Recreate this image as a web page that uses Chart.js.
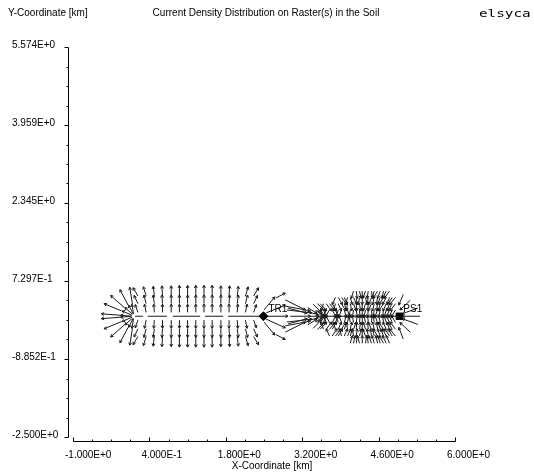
<!DOCTYPE html>
<html lang="en">
<head>
<meta charset="UTF-8">
<title>Current Density Distribution on Raster(s) in the Soil</title>
<script src="https://cdn.jsdelivr.net/npm/chart.js"></script>
<style>
    body { margin: 0; background: #fff; }
    canvas { display: block; }
</style>
</head>
<body>
<canvas id="soilChart" width="534" height="473"></canvas>
<script>
// Axis tick labels (values are read back from the label text)
const xTickLabels = ['-1.000E+0', '4.000E-1', '1.800E+0', '3.200E+0', '4.600E+0', '6.000E+0'];
const yTickLabels = ['-2.500E+0', '-8.852E-1', '7.297E-1', '2.345E+0', '3.959E+0', '5.574E+0'];

// Sources
const sourceNames = ['TR1', 'PS1'];
const sourceX = [2.49, 4.98];
const sourceY = [0, 0];

// Raster conductors along y = 0 (start / end in km)
const rasterStart = [0.14, 0.37, 0.83, 1.42, 1.84, 3.50];
const rasterEnd = [0.28, 0.72, 1.33, 1.75, 2.49, 4.98];

// Left raster (TR1): grid points and current vectors [km]
const leftCols = [0.19, 0.34, 0.49, 0.64, 0.80, 0.95, 1.10, 1.25, 1.40, 1.55, 1.71, 1.86, 2.01, 2.16, 2.31];
const leftRows = [0.42, 0.26, 0.08, -0.08, -0.26, -0.42];
const leftU = [
    [-0.09, -0.05, -0.02, -0.01, 0, 0, 0, 0, 0, 0, 0, 0.01, 0.02, 0.05, 0.09],
    [-0.07, -0.04, -0.02, -0.01, 0, 0, 0, 0, 0, 0, 0, 0.01, 0.02, 0.04, 0.07],
    [-0.05, -0.03, -0.01, 0, 0, 0, 0, 0, 0, 0, 0, 0, 0.01, 0.03, 0.05],
    [-0.05, -0.03, -0.01, 0, 0, 0, 0, 0, 0, 0, 0, 0, 0.01, 0.03, 0.05],
    [-0.07, -0.04, -0.02, -0.01, 0, 0, 0, 0, 0, 0, 0, 0.01, 0.02, 0.04, 0.07],
    [-0.09, -0.05, -0.02, -0.01, 0, 0, 0, 0, 0, 0, 0, 0.01, 0.02, 0.05, 0.09]
];
const leftV = [
    [0.17, 0.19, 0.20, 0.21, 0.21, 0.22, 0.22, 0.22, 0.22, 0.22, 0.21, 0.21, 0.20, 0.19, 0.17],
    [0.17, 0.18, 0.18, 0.18, 0.18, 0.18, 0.18, 0.18, 0.18, 0.18, 0.18, 0.18, 0.18, 0.18, 0.17],
    [0.16, 0.17, 0.17, 0.17, 0.17, 0.17, 0.17, 0.17, 0.17, 0.17, 0.17, 0.17, 0.17, 0.17, 0.16],
    [-0.16, -0.17, -0.17, -0.17, -0.17, -0.17, -0.17, -0.17, -0.17, -0.17, -0.17, -0.17, -0.17, -0.17, -0.16],
    [-0.17, -0.18, -0.18, -0.18, -0.18, -0.18, -0.18, -0.18, -0.18, -0.18, -0.18, -0.18, -0.18, -0.18, -0.17],
    [-0.17, -0.19, -0.20, -0.21, -0.21, -0.22, -0.22, -0.22, -0.22, -0.22, -0.21, -0.21, -0.20, -0.19, -0.17]
];

// Right raster (PS1): two interleaved column sets, horizontal components (null = no arrow),
// vertical component per row (pointing in towards the conductor)
const rightRows = [0.52, 0.39, 0.26, 0.13, -0.13, -0.27, -0.41, -0.56];
const rightV = [-0.15, -0.15, -0.15, -0.15, 0.15, 0.15, 0.15, 0.16];
const rightCols = [3.53, 3.64, 3.75, 3.86, 3.97, 4.08, 4.19, 4.30, 4.41, 4.52, 4.63, 4.74, 4.85];
const rightU = [
    [null, null, null, null, null, null, 0.02, 0.00, -0.02, -0.04, -0.05, -0.07, null],
    [null, null, null, 0.08, 0.06, 0.04, 0.02, 0.00, -0.02, -0.03, -0.05, -0.07, -0.09],
    [0.12, 0.10, 0.08, 0.06, 0.05, 0.03, 0.01, 0.00, -0.01, -0.03, -0.04, -0.06, -0.08],
    [0.10, -0.06, 0.07, -0.04, 0.04, -0.02, 0.02, 0.00, -0.01, -0.02, -0.03, -0.04, -0.06],
    [0.10, -0.05, 0.07, -0.04, 0.04, -0.02, 0.02, 0.00, -0.01, -0.02, -0.03, -0.04, -0.06],
    [0.12, 0.10, 0.08, 0.06, 0.05, 0.03, 0.01, 0.00, -0.01, -0.03, -0.04, -0.06, -0.08],
    [null, null, 0.09, 0.08, 0.06, 0.04, 0.02, 0.00, -0.02, -0.03, -0.05, -0.07, -0.08],
    [null, null, null, null, null, 0.04, 0.02, 0.00, -0.02, -0.04, -0.05, -0.07, null]
];
const rightColsB = [3.48, 3.59, 3.70, 3.81, 3.92, 4.03, 4.14, 4.25, 4.36, 4.47, 4.58, 4.69, 4.80, 4.91];
const rightUB = [
    [null, null, null, null, null, null, -0.04, 0.03, -0.05, 0.02, -0.08, -0.03, -0.10, null],
    [null, null, null, -0.06, 0.10, -0.03, 0.06, -0.02, 0.03, -0.05, -0.02, -0.08, -0.05, -0.11],
    [0.14, -0.05, 0.11, -0.04, 0.08, -0.02, 0.05, 0.02, -0.04, -0.06, -0.02, -0.09, -0.05, -0.10],
    [0.12, 0.06, -0.08, 0.05, -0.05, 0.04, -0.02, 0.01, -0.03, 0.01, -0.05, -0.02, -0.06, -0.08],
    [0.12, 0.05, -0.07, 0.05, -0.05, 0.03, -0.02, 0.01, -0.03, 0.01, -0.05, -0.02, -0.06, -0.08],
    [0.14, -0.05, 0.11, -0.04, 0.08, -0.02, 0.05, 0.02, -0.04, -0.06, -0.02, -0.09, -0.05, -0.10],
    [null, null, -0.06, 0.10, -0.03, 0.06, -0.02, 0.03, -0.05, -0.02, -0.08, -0.05, -0.09, -0.11],
    [null, null, null, null, null, null, 0.03, -0.04, 0.02, -0.05, -0.03, -0.08, -0.06, null]
];

// Loose arrows [x, y, dx, dy] in km
const leftFan = [
    [-0.13, 0.02, -0.35, 0.03], [-0.13, -0.02, -0.35, -0.03],
    [-0.11, 0.11, -0.32, 0.15], [-0.11, -0.11, -0.32, -0.15],
    [-0.06, 0.18, -0.25, 0.25], [-0.06, -0.18, -0.25, -0.25],
    [0.01, 0.23, -0.15, 0.32], [0.01, -0.23, -0.15, -0.32],
    [0.09, 0.25, -0.05, 0.35], [0.09, -0.25, -0.05, -0.35],
    [0.07, 0.00, -0.20, 0.02], [0.07, 0.00, -0.20, -0.02],
    [0.08, 0.02, -0.18, 0.09], [0.08, -0.02, -0.18, -0.09],
    [0.09, 0.04, -0.14, 0.14], [0.09, -0.04, -0.14, -0.14],
    [0.10, 0.05, -0.08, 0.18], [0.10, -0.05, -0.08, -0.18],
    [0.11, 0.05, -0.03, 0.20], [0.11, -0.05, -0.03, -0.20]
];
const gapArrows = [
    [2.50, 0.13, 0.20, 0.27], [2.54, 0.07, 0.35, 0.16], [2.54, 0.00, 0.40, 0.00],
    [2.54, -0.06, 0.35, -0.18], [2.50, -0.12, 0.20, -0.27],
    [2.72, 0.38, 0.17, 0.10], [2.72, -0.38, 0.17, -0.10],
    [2.89, 0.34, 0.37, -0.21], [2.94, 0.17, 0.35, -0.11], [2.98, 0.00, 0.37, 0.00],
    [2.94, -0.16, 0.35, 0.11], [2.89, -0.33, 0.37, 0.21],
    [2.89, 0.21, 0.46, -0.10], [2.92, 0.13, 0.46, -0.06],
    [2.92, -0.12, 0.46, 0.06], [2.89, -0.20, 0.46, 0.10],
    [3.30, 0.18, 0.17, -0.12], [3.34, 0.00, 0.17, 0.00], [3.30, -0.18, 0.17, 0.12],
    [3.34, 0.08, 0.16, -0.05], [3.34, -0.08, 0.16, 0.05],
    [3.40, 0.25, 0.15, -0.17], [3.40, -0.25, 0.15, 0.17],
    [3.45, 0.12, 0.12, -0.10], [3.45, -0.12, 0.12, 0.10]
];
const endFan = [
    [5.32, 0.17, -0.29, -0.12], [5.36, 0.00, -0.33, 0.00], [5.32, -0.17, -0.29, 0.12],
    [5.18, 0.33, -0.19, -0.20], [5.18, -0.33, -0.19, 0.20],
    [5.05, 0.45, -0.08, -0.22], [5.05, -0.47, -0.08, 0.24]
];

const FONT = '"Liberation Sans", Arial, sans-serif';

function drawArrow(c, x0, y0, x1, y1) {
    const a = Math.atan2(y1 - y0, x1 - x0);
    c.beginPath();
    c.moveTo(x0, y0);
    c.lineTo(x1, y1);
    c.moveTo(x1, y1);
    c.lineTo(x1 - 3 * Math.cos(a - 0.5), y1 - 3 * Math.sin(a - 0.5));
    c.moveTo(x1, y1);
    c.lineTo(x1 - 3 * Math.cos(a + 0.5), y1 - 3 * Math.sin(a + 0.5));
    c.stroke();
}

const fieldPlugin = {
    id: 'field',
    beforeDatasetsDraw(chart) {
        const { ctx, scales: { x, y } } = chart;
        const arrow = (px, py, u, v) => drawArrow(ctx,
            x.getPixelForValue(px), y.getPixelForValue(py),
            x.getPixelForValue(px + u), y.getPixelForValue(py + v));
        ctx.save();
        ctx.strokeStyle = '#1a1a1a';
        ctx.lineWidth = 1;
        leftRows.forEach((ry, r) => leftCols.forEach((cx, c) => arrow(cx, ry, leftU[r][c], leftV[r][c])));
        rightRows.forEach((ry, r) => {
            rightCols.forEach((cx, c) => {
                if (rightU[r][c] !== null) arrow(cx, ry, rightU[r][c], rightV[r]);
            });
            rightColsB.forEach((cx, c) => {
                if (rightUB[r][c] !== null) arrow(cx, ry, rightUB[r][c], rightV[r]);
            });
        });
        [...leftFan, ...gapArrows, ...endFan].forEach(a => arrow(a[0], a[1], a[2], a[3]));
        ctx.restore();
    },
    afterDraw(chart) {
        const { ctx, chartArea: area, scales: { x, y } } = chart;
        ctx.save();
        ctx.strokeStyle = '#000';
        ctx.lineWidth = 1;
        ctx.beginPath();

        // y axis, set a few pixels left of the plot
        const ax = area.left - 5 + 0.5;
        const yTicks = y.ticks.map(t => t.value);
        ctx.moveTo(ax, Math.round(y.getPixelForValue(yTicks[yTicks.length - 1])) + 0.5);
        ctx.lineTo(ax, Math.round(y.getPixelForValue(yTicks[0])) + 0.5);
        yTicks.forEach((v, i) => {
            const p = Math.round(y.getPixelForValue(v)) + 0.5;
            ctx.moveTo(ax - 4, p); ctx.lineTo(ax, p);
            if (i < yTicks.length - 1) {
                const step = (yTicks[i + 1] - v) / 4;
                for (let k = 1; k < 4; k++) {
                    const q = Math.round(y.getPixelForValue(v + k * step)) + 0.5;
                    ctx.moveTo(ax - 2, q); ctx.lineTo(ax, q);
                }
            }
        });

        // x axis, a few pixels below the plot
        const ay = area.bottom + 4 + 0.5;
        const xTicks = x.ticks.map(t => t.value);
        ctx.moveTo(Math.round(x.getPixelForValue(xTicks[0])) + 0.5, ay);
        ctx.lineTo(Math.round(x.getPixelForValue(xTicks[xTicks.length - 1])) + 0.5, ay);
        xTicks.forEach((v, i) => {
            const p = Math.round(x.getPixelForValue(v)) + 0.5;
            ctx.moveTo(p, ay); ctx.lineTo(p, ay - 4);
            if (i < xTicks.length - 1) {
                const step = (xTicks[i + 1] - v) / 4;
                for (let k = 1; k < 4; k++) {
                    const q = Math.round(x.getPixelForValue(v + k * step)) + 0.5;
                    ctx.moveTo(q, ay); ctx.lineTo(q, ay - 2);
                }
            }
        });
        ctx.stroke();

        // header and axis titles
        ctx.fillStyle = '#000';
        ctx.font = '10px ' + FONT;
        ctx.textBaseline = 'middle';
        ctx.textAlign = 'left';
        ctx.fillText('Y-Coordinate [km]', 8, 13);
        ctx.textAlign = 'center';
        ctx.fillText('Current Density Distribution on Raster(s) in the Soil', 266, 13);
        ctx.fillText('X-Coordinate [km]', 272, 466);

        // logo
        ctx.save();
        ctx.translate(479, 14);
        ctx.scale(1.3, 1);
        ctx.textAlign = 'left';
        ctx.font = '11px "DejaVu Sans Mono", monospace';
        ctx.fillText('elsyca', 0, 0);
        ctx.restore();

        // source labels
        ctx.textAlign = 'left';
        ctx.textBaseline = 'alphabetic';
        ctx.font = '10px ' + FONT;
        sourceNames.forEach((name, i) => {
            const px = x.getPixelForValue(sourceX[i]);
            const py = y.getPixelForValue(sourceY[i]);
            ctx.fillText(name, px + (i === 0 ? 5 : 4), py - 4);
        });
        ctx.restore();
    }
};

const rasterData = [];
rasterStart.forEach((s, i) => {
    rasterData.push({ x: s, y: 0 }, { x: rasterEnd[i], y: 0 }, { x: rasterEnd[i], y: null });
});

const ctx = document.getElementById('soilChart').getContext('2d');
new Chart(ctx, {
    type: 'scatter',
    data: {
        datasets: [
            {
                data: rasterData,
                showLine: true,
                spanGaps: false,
                borderColor: '#1a1a1a',
                borderWidth: 1,
                pointRadius: 0
            },
            {
                data: [{ x: sourceX[0], y: sourceY[0] }],
                pointStyle: 'rectRot',
                pointRadius: 4.5,
                backgroundColor: '#000',
                borderColor: '#000',
                borderWidth: 1
            },
            {
                data: [{ x: sourceX[1], y: sourceY[1] }],
                pointStyle: 'rect',
                pointRadius: 4.5,
                backgroundColor: '#000',
                borderColor: '#000',
                borderWidth: 1
            }
        ]
    },
    options: {
        responsive: false,
        animation: false,
        events: [],
        layout: { padding: { top: 47, left: 12, right: 79, bottom: 0 } },
        plugins: { legend: { display: false }, tooltip: { enabled: false } },
        scales: {
            x: {
                type: 'linear',
                min: -1,
                max: 6,
                afterBuildTicks: s => { s.ticks = xTickLabels.map(l => ({ value: parseFloat(l) })); },
                afterFit: s => { s.height = 36; },
                grid: { display: false, drawTicks: false },
                border: { display: false },
                ticks: {
                    autoSkip: false,
                    maxRotation: 0,
                    align: 'start',
                    labelOffset: -8,
                    padding: 12,
                    color: '#000',
                    font: { family: FONT, size: 10 },
                    callback: (v, i) => xTickLabels[i]
                }
            },
            y: {
                type: 'linear',
                min: -2.5,
                max: 5.574,
                afterBuildTicks: s => { s.ticks = yTickLabels.map(l => ({ value: parseFloat(l) })); },
                afterFit: s => { s.width = 61; },
                grid: { display: false, drawTicks: false },
                border: { display: false },
                ticks: {
                    autoSkip: false,
                    crossAlign: 'far',
                    labelOffset: -2,
                    color: '#000',
                    font: { family: FONT, size: 10 },
                    callback: (v, i) => yTickLabels[i]
                }
            }
        }
    },
    plugins: [fieldPlugin]
});
</script>
</body>
</html>
